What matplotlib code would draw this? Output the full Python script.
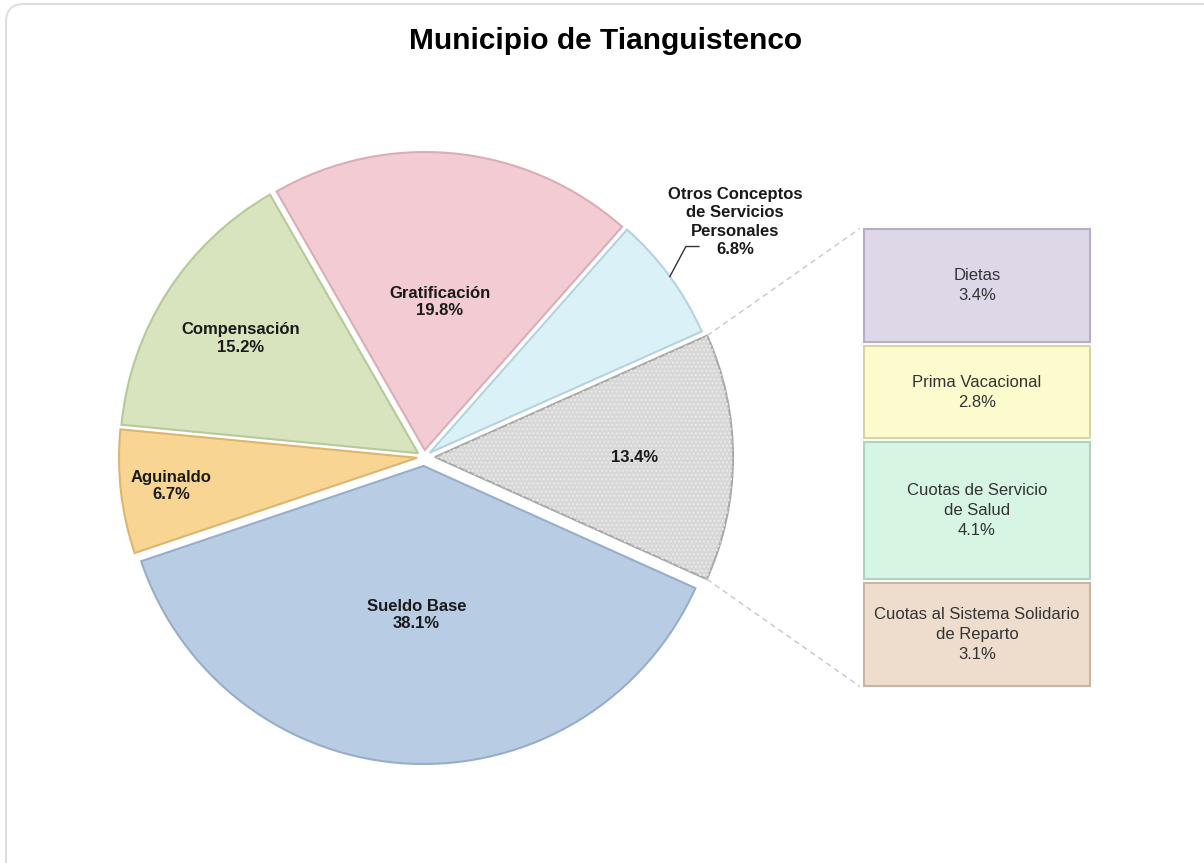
import matplotlib.pyplot as plt
from matplotlib.patches import FancyBboxPatch, Wedge
import numpy as np

plt.rcParams['font.family'] = ['Liberation Sans', 'DejaVu Sans']

# datos del pastel principal (en orden contrario a las manecillas, desde el gris)
pie_labels = ['', 'Otros Conceptos\nde Servicios\nPersonales', 'Gratificación',
              'Compensación', 'Aguinaldo', 'Sueldo Base']
pie_values = [13.4, 6.8, 19.8, 15.2, 6.7, 38.1]
pie_colors = ['#D7D7D7', '#DBF1F8', '#F3CCD3', '#D7E4BD', '#F9D593', '#B8CCE4']
pie_edges = ['#A8A8A8', '#B5D3DD', '#D9AEB6', '#B7C99A', '#DDB56E', '#97AECB']

# datos de la barra (de abajo hacia arriba)
bar_labels = ['Cuotas al Sistema Solidario\nde Reparto', 'Cuotas de Servicio\nde Salud',
              'Prima Vacacional', 'Dietas']
bar_values = [3.1, 4.1, 2.8, 3.4]
bar_colors = ['#EEDDCD', '#D6F5E3', '#FCFBCD', '#DDD7E8']
bar_edges = ['#C9B6A2', '#AFD3BE', '#D6D4A3', '#B7AEC6']

W, H = 1204, 863
fig = plt.figure(figsize=(W / 100, H / 100), dpi=100)
ax = fig.add_axes([0, 0, 1, 1])

# marco redondeado (solo se ven arriba e izquierda)
fig.patches.append(FancyBboxPatch((6, -30), W + 30, H - 4 + 30, boxstyle='round,pad=0,rounding_size=18',
                                  transform=None, facecolor='white', edgecolor='#DEDEDA',
                                  linewidth=1.5, zorder=-1))

cx, cy, R = 424, H - 457, 298
explode = [11, 7, 7, 7, 7, 9]  # en pixeles
wedges, _ = ax.pie(pie_values, colors=pie_colors, startangle=-24.2, counterclock=True,
                   center=(cx, cy), radius=R, explode=explode, frame=True,
                   wedgeprops=dict(linewidth=1.5))
for w, ec in zip(wedges, pie_edges):
    w.set_edgecolor(ec)

# textura punteada del gris
g = wedges[0]
ax.add_patch(Wedge(g.center, g.r, g.theta1, g.theta2, facecolor='none',
                   edgecolor='#EAEAEA', hatch='....', linewidth=0, zorder=3))

ax.set_xlim(0, W)
ax.set_ylim(0, H)
ax.set_aspect('equal')
ax.axis('off')

# etiquetas del pastel
label_r = [0.67, None, 0.50, 0.71, 0.83, 0.50]
for w, lab, val, lr in zip(wedges, pie_labels, pie_values, label_r):
    if lr is None:
        continue
    ang = np.deg2rad((w.theta1 + w.theta2) / 2)
    x = w.center[0] + lr * R * np.cos(ang)
    y = w.center[1] + lr * R * np.sin(ang)
    txt = f'{val:.1f}%' if lab == '' else f'{lab}\n{val:.1f}%'
    ax.text(x, y, txt, ha='center', va='center', fontsize=12, fontweight='bold',
            color='#1A1A1A', linespacing=1.2, zorder=5)

# etiqueta externa de Otros Conceptos
o = wedges[1]
ang = np.deg2rad((o.theta1 + o.theta2) / 2)
px = o.center[0] + R * np.cos(ang)
py = o.center[1] + R * np.sin(ang)
ax.plot([px, px + 16, px + 29], [py, py + 30, py + 30], color='#333333', lw=1, zorder=5)
ax.text(735, H - 222, f'{pie_labels[1]}\n{pie_values[1]:.1f}%', ha='center', va='center',
        fontsize=12, fontweight='bold', color='#1A1A1A', linespacing=1.27, zorder=5)

# barra apilada
bx0, bx1 = 862, 1092
by0 = H - 688
scale = 461 / sum(bar_values)
bottoms = by0 + scale * np.concatenate([[0], np.cumsum(bar_values)[:-1]])
heights = scale * np.array(bar_values)
ax.bar([(bx0 + bx1) / 2] * 4, heights, bottom=bottoms, width=bx1 - bx0,
       color=bar_colors, edgecolor='white', linewidth=3, zorder=3)
ax.bar([(bx0 + bx1) / 2] * 4, heights - 4, bottom=bottoms + 2, width=bx1 - bx0 - 4,
       color='none', edgecolor=bar_edges, linewidth=1.5, zorder=4)
for b, h, lab, val in zip(bottoms, heights, bar_labels, bar_values):
    ax.text((bx0 + bx1) / 2, b + h / 2, f'{lab}\n{val:.1f}%', ha='center', va='center',
            fontsize=12, color='#333333', linespacing=1.42, zorder=5)

# lineas de conexion
for th in (g.theta2, g.theta1):
    a = np.deg2rad(th)
    sx = g.center[0] + g.r * np.cos(a)
    sy = g.center[1] + g.r * np.sin(a)
    ey = bottoms[-1] + heights[-1] if th == g.theta2 else by0
    ax.plot([sx, bx0], [sy, ey], color='#C8C8C8', lw=1, ls=(0, (4, 3)), zorder=2)

ax.text(W / 2 + 4, H - 41, 'Municipio de Tianguistenco', ha='center', va='center',
        fontsize=21.5, fontweight='bold', color='black')

fig.savefig('out.png', dpi=100)
